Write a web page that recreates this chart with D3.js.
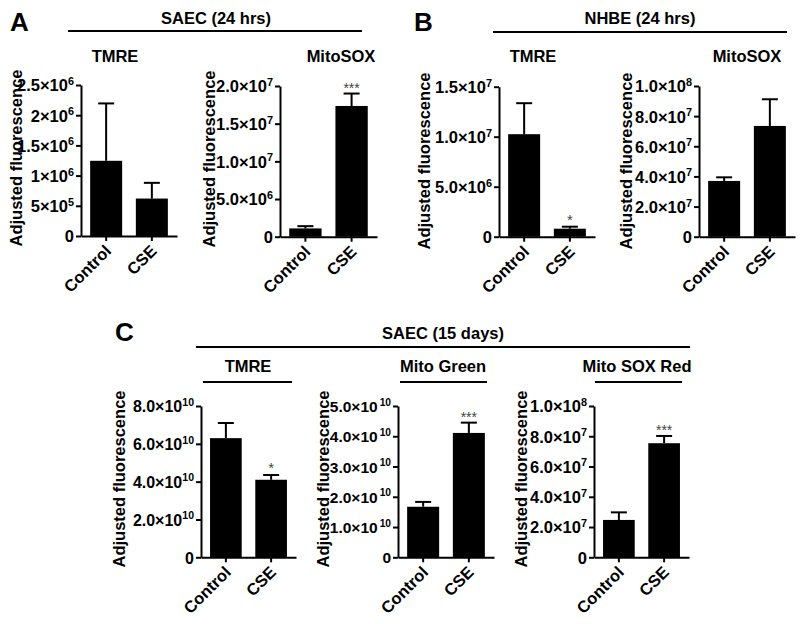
<!DOCTYPE html>
<html>
<head>
<meta charset="utf-8">
<script src="https://cdn.jsdelivr.net/npm/d3@7/dist/d3.min.js"></script>
<style>
  html, body { margin: 0; padding: 0; background: #fff; }
  text { font-family: Arial, "Liberation Sans", sans-serif; }
</style>
</head>
<body>
<svg id="chart" width="800" height="624"></svg>
<script>
// ---------- data ----------
const groups = ["Control", "CSE"];

const aTmreMean = [1.245e6, 0.62e6];
const aTmreSem = [0.95e6, 0.26e6];
const aTmreTicks = [0, 5e5, 1e6, 1.5e6, 2e6, 2.5e6];
const aTmreTickLabels = ["0", "5×10^5", "1×10^6", "1.5×10^6", "2×10^6", "2.5×10^6"];
const aTmreStars = ["", ""];

const aMitoMean = [1.1e6, 1.735e7];
const aMitoSem = [0.3e6, 0.165e7];
const aMitoTicks = [0, 5e6, 1e7, 1.5e7, 2e7];
const aMitoTickLabels = ["0", "5.0×10^6", "1.0×10^7", "1.5×10^7", "2.0×10^7"];
const aMitoStars = ["", "***"];

const bTmreMean = [1.025e7, 0.8e6];
const bTmreSem = [0.31e7, 0.2e6];
const bTmreTicks = [0, 5e6, 1e7, 1.5e7];
const bTmreTickLabels = ["0", "5.0×10^6", "1.0×10^7", "1.5×10^7"];
const bTmreStars = ["", "*"];

const bMitoMean = [3.7e7, 7.35e7];
const bMitoSem = [0.24e7, 1.77e7];
const bMitoTicks = [0, 2e7, 4e7, 6e7, 8e7, 1e8];
const bMitoTickLabels = ["0", "2.0×10^7", "4.0×10^7", "6.0×10^7", "8.0×10^7", "1.0×10^8"];
const bMitoStars = ["", ""];

const cTmreMean = [6.3e10, 4.1e10];
const cTmreSem = [0.8e10, 0.25e10];
const cTmreTicks = [0, 2e10, 4e10, 6e10, 8e10];
const cTmreTickLabels = ["0", "2.0×10^10", "4.0×10^10", "6.0×10^10", "8.0×10^10"];
const cTmreStars = ["", "*"];

const cGreenMean = [1.67e10, 4.11e10];
const cGreenSem = [0.16e10, 0.34e10];
const cGreenTicks = [0, 1e10, 2e10, 3e10, 4e10, 5e10];
const cGreenTickLabels = ["0", "1.0×10 ^10", "2.0×10 ^10", "3.0×10 ^10", "4.0×10 ^10", "5.0×10 ^10"];
const cGreenStars = ["", "***"];

const cRedMean = [2.47e7, 7.54e7];
const cRedSem = [0.5e7, 0.48e7];
const cRedTicks = [0, 2e7, 4e7, 6e7, 8e7, 1e8];
const cRedTickLabels = ["0", "2.0×10^7", "4.0×10^7", "6.0×10^7", "8.0×10^7", "1.0×10^8"];
const cRedStars = ["", "***"];

const yAxisTitle = "Adjusted fluorescence";

// ---------- layout ----------
const svg = d3.select("#chart");
const panels = [
  {mean: aTmreMean, sem: aTmreSem, ticks: aTmreTicks, labels: aTmreTickLabels, stars: aTmreStars, x0: 81, x1: 177, top: 85, base: 236, labX: 22, labY: 158, fs: 16.5},
  {mean: aMitoMean, sem: aMitoSem, ticks: aMitoTicks, labels: aMitoTickLabels, stars: aMitoStars, x0: 280, x1: 377, top: 86, base: 236.7, labX: 215, labY: 159, fs: 16.5},
  {mean: bTmreMean, sem: bTmreSem, ticks: bTmreTicks, labels: bTmreTickLabels, stars: bTmreStars, x0: 499, x1: 595, top: 86.7, base: 236.7, labX: 430, labY: 161, fs: 16.5},
  {mean: bMitoMean, sem: bMitoSem, ticks: bMitoTicks, labels: bMitoTickLabels, stars: bMitoStars, x0: 699, x1: 795, top: 86, base: 236.7, labX: 632, labY: 161, fs: 16.5},
  {mean: cTmreMean, sem: cTmreSem, ticks: cTmreTicks, labels: cTmreTickLabels, stars: cTmreStars, x0: 201, x1: 296, top: 406, base: 557.3, labX: 125, labY: 479, fs: 16},
  {mean: cGreenMean, sem: cGreenSem, ticks: cGreenTicks, labels: cGreenTickLabels, stars: cGreenStars, x0: 398, x1: 494, top: 406, base: 557.3, labX: 329, labY: 479, fs: 15.5},
  {mean: cRedMean, sem: cRedSem, ticks: cRedTicks, labels: cRedTickLabels, stars: cRedStars, x0: 594, x1: 689, top: 406, base: 557.3, labX: 527, labY: 479, fs: 16.5}
];

function addLabel(sel, label, sup) {
  const parts = label.split("^");
  const spaced = parts[0].endsWith(" ");
  sel.append("tspan").text(parts[0].trim());
  if (parts.length > 1) {
    sel.append("tspan").attr("dy", -6.5).attr("dx", spaced ? 2 : 0).attr("font-size", sup).text(parts[1]);
  }
}

panels.forEach(p => {
  const x = d3.scaleBand().domain(groups).range([p.x0, p.x1]).paddingInner(0.3).paddingOuter(0.2);
  const ymax = p.ticks[p.ticks.length - 1];
  const y = d3.scaleLinear().domain([0, ymax]).range([p.base, p.top]);
  const g = svg.append("g");

  // bars
  g.selectAll("rect.bar").data(groups).enter().append("rect")
    .attr("x", d => x(d))
    .attr("width", x.bandwidth())
    .attr("y", (d, i) => y(p.mean[i]))
    .attr("height", (d, i) => p.base - y(p.mean[i]))
    .attr("fill", "#000");

  // error bars
  groups.forEach((d, i) => {
    const cx = x(d) + x.bandwidth() / 2;
    const yt = y(p.mean[i] + p.sem[i]);
    g.append("line").attr("x1", cx).attr("x2", cx).attr("y1", y(p.mean[i])).attr("y2", yt)
      .attr("stroke", "#000").attr("stroke-width", 2);
    g.append("line").attr("x1", cx - 8).attr("x2", cx + 8).attr("y1", yt).attr("y2", yt)
      .attr("stroke", "#000").attr("stroke-width", 2);
    if (p.stars[i]) {
      g.append("text").attr("x", cx).attr("y", yt - 4 + (p.stars[i] === "*" ? 2 : 3))
        .attr("text-anchor", "middle").attr("font-size", p.stars[i] === "*" ? 15 : 14)
        .attr("fill", "#444").text(p.stars[i]);
    }
  });

  // y axis
  const ya = g.append("g").attr("transform", `translate(${p.x0},0)`)
    .call(d3.axisLeft(y).tickValues(p.ticks).tickSize(5).tickSizeOuter(0).tickFormat(""));
  ya.select(".domain").attr("stroke-width", 2);
  ya.selectAll(".tick line").attr("stroke-width", 2);
  ya.selectAll(".tick").each(function(d, i) {
    const t = d3.select(this).append("text")
      .attr("x", -7).attr("dy", "0.36em").attr("text-anchor", "end")
      .attr("fill", "#000").attr("font-size", p.fs).attr("font-weight", "bold");
    addLabel(t, p.labels[i], p.fs * 0.66);
  });

  // x axis
  const xa = g.append("g").attr("transform", `translate(0,${p.base})`)
    .call(d3.axisBottom(x).tickSize(5).tickSizeOuter(0).tickFormat(""));
  xa.select(".domain").attr("stroke-width", 2);
  xa.selectAll(".tick line").attr("stroke-width", 2);
  xa.selectAll(".tick").append("text")
    .attr("transform", "translate(6,16) rotate(-45)")
    .attr("text-anchor", "end").attr("fill", "#000")
    .attr("font-size", 16.5).attr("font-weight", "bold")
    .text(d => d);

  // y axis title
  g.append("text").attr("transform", `translate(${p.labX},${p.labY}) rotate(-90)`)
    .attr("text-anchor", "middle").attr("font-size", 16.5).attr("font-weight", "bold")
    .text(yAxisTitle);
});

// ---------- titles ----------
function title(txt, cx, y, size, anchor) {
  svg.append("text").attr("x", cx).attr("y", y).attr("text-anchor", anchor || "middle")
    .attr("font-size", size).attr("font-weight", "bold").text(txt);
}
function rule(x1, x2, y) {
  svg.append("line").attr("x1", x1).attr("x2", x2).attr("y1", y).attr("y2", y)
    .attr("stroke", "#000").attr("stroke-width", 2);
}
title("A", 10, 31, 26, "start");
title("SAEC (24 hrs)", 216, 24, 16.5);
rule(68, 362, 31);
title("TMRE", 115, 62, 16.5);
title("MitoSOX", 341, 62, 16.5);

title("B", 414, 31, 26, "start");
title("NHBE (24 hrs)", 640, 24, 16.5);
rule(493, 787, 32);
title("TMRE", 533, 62, 16.5);
title("MitoSOX", 747, 62, 16.5);

title("C", 115, 341, 26, "start");
title("SAEC (15 days)", 443, 339, 16.5);
rule(196, 690, 347);
title("TMRE", 248, 372, 16.5);
rule(203, 292, 382);
title("Mito Green", 443, 372, 16.5);
rule(400, 487, 382);
title("Mito SOX Red", 637, 372, 16.5);
rule(595, 682, 382);
</script>
</body>
</html>
